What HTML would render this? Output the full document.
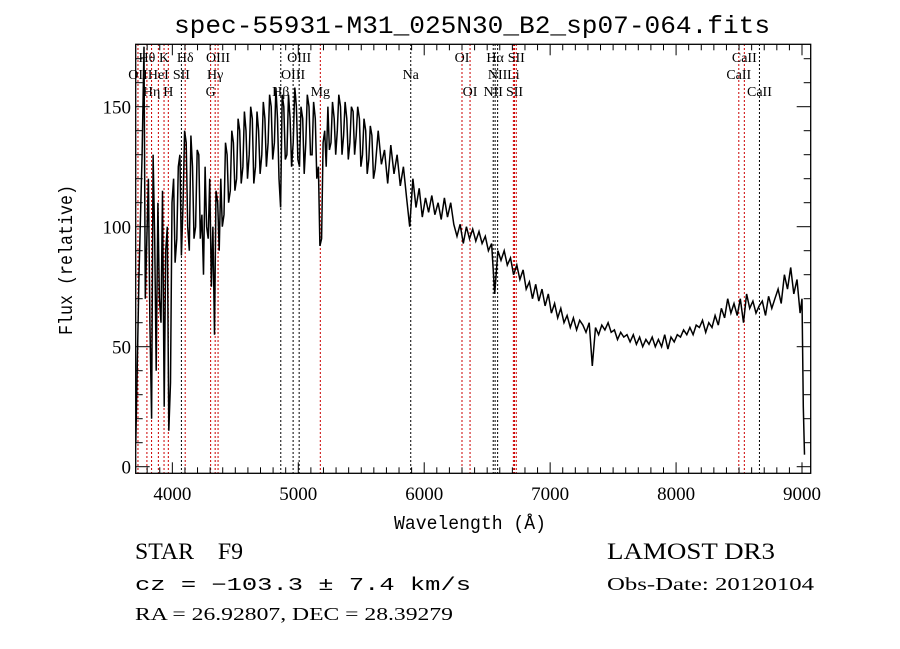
<!DOCTYPE html>
<html><head><meta charset="utf-8"><style>
html,body{margin:0;padding:0;background:#fff;}
svg{display:block;}
text{font-family:"Liberation Serif",serif;fill:#000;}
.mono{font-family:"Liberation Mono",monospace;}
</style></head><body>
<svg id="chart" width="900" height="649" viewBox="0 0 900 649" xmlns="http://www.w3.org/2000/svg">
<rect x="0" y="0" width="900" height="649" fill="#fff"/>
<text class="mono" x="472" y="33" font-size="25" text-anchor="middle" textLength="596" lengthAdjust="spacingAndGlyphs">spec-55931-M31_025N30_B2_sp07-064.fits</text>
<defs><clipPath id="plotclip"><rect x="136" y="44.5" width="674.5" height="428.5"/></clipPath></defs>
<g id="lines" clip-path="url(#plotclip)"></g>
<g id="labels"></g>
<g id="series" clip-path="url(#plotclip)"></g>
<rect x="135.7" y="44.3" width="675" height="429" fill="none" stroke="#000" stroke-width="1.3"/>
<g id="axes"></g>
<text class="mono" x="470" y="529" font-size="19" text-anchor="middle" textLength="152" lengthAdjust="spacingAndGlyphs">Wavelength (Å)</text>
<text class="mono" transform="translate(72,260) rotate(-90)" font-size="19" text-anchor="middle" textLength="150" lengthAdjust="spacingAndGlyphs">Flux (relative)</text>
<text x="135" y="559" font-size="23" textLength="108" lengthAdjust="spacingAndGlyphs">STAR&#160;&#160;&#160;&#160;F9</text>
<text class="mono" x="135" y="590" font-size="18" textLength="336" lengthAdjust="spacingAndGlyphs">cz = −103.3 ± 7.4 km/s</text>
<text x="135" y="620" font-size="18" textLength="318" lengthAdjust="spacingAndGlyphs">RA =  26.92807, DEC =  28.39279</text>
<text x="607" y="559" font-size="23" textLength="168" lengthAdjust="spacingAndGlyphs">LAMOST DR3</text>
<text x="607" y="590" font-size="18" textLength="207" lengthAdjust="spacingAndGlyphs">Obs-Date: 20120104</text>
</svg>
<script>
const wavelengths=[3710,3735,3760,3775,3785,3810,3822,3835,3847,3860,3872,3885,3897,3910,3922,3935,3947,3960,3972,3985,3997,4010,4022,4035,4047,4060,4072,4085,4097,4110,4122,4135,4147,4160,4172,4185,4197,4210,4222,4235,4247,4260,4272,4285,4297,4310,4322,4335,4347,4360,4372,4385,4397,4410,4422,4435,4447,4460,4472,4485,4497,4510,4522,4535,4547,4560,4572,4585,4597,4610,4622,4635,4647,4660,4672,4685,4697,4710,4722,4735,4747,4760,4772,4785,4797,4810,4822,4835,4847,4860,4872,4885,4897,4910,4922,4935,4947,4960,4972,4985,4997,5010,5022,5035,5047,5060,5072,5085,5097,5110,5122,5135,5147,5160,5172,5185,5197,5210,5222,5235,5247,5260,5272,5285,5297,5310,5322,5335,5347,5360,5372,5385,5397,5410,5422,5435,5447,5460,5472,5485,5497,5510,5522,5535,5547,5560,5572,5585,5597,5610,5635,5660,5685,5710,5735,5760,5785,5810,5835,5860,5885,5910,5935,5960,5985,6010,6035,6060,6085,6110,6135,6160,6185,6210,6235,6260,6285,6310,6335,6360,6385,6410,6435,6460,6485,6510,6535,6560,6585,6610,6635,6660,6685,6710,6735,6760,6785,6810,6835,6860,6885,6910,6935,6960,6985,7010,7035,7060,7085,7110,7135,7160,7185,7210,7235,7260,7285,7310,7335,7360,7385,7410,7435,7460,7485,7510,7535,7560,7585,7610,7635,7660,7685,7710,7735,7760,7785,7810,7835,7860,7885,7910,7935,7960,7985,8010,8035,8060,8085,8110,8135,8160,8185,8210,8235,8260,8285,8310,8335,8360,8385,8410,8435,8460,8485,8510,8535,8560,8585,8610,8635,8660,8685,8710,8735,8760,8785,8810,8835,8860,8885,8910,8935,8960,8985,9000,9010,9020];
const fluxes=[10,80,130,175,70,120,60,20,130,95,40,110,70,60,115,25,90,100,15,35,110,120,85,95,125,130,88,110,140,135,100,90,138,125,95,100,132,130,95,105,80,125,100,95,120,75,100,55,115,110,90,120,100,105,135,130,110,115,140,135,115,120,145,140,118,125,148,140,120,130,150,145,118,125,148,140,122,130,152,145,125,135,155,150,128,135,158,145,120,108,155,150,128,130,155,145,125,135,158,150,128,125,150,145,122,135,155,150,130,130,152,145,120,125,92,95,135,140,125,150,132,135,152,145,130,140,155,150,130,138,152,145,128,135,150,148,130,138,150,145,125,130,145,140,122,128,142,138,120,124,140,126,132,118,134,122,130,117,125,112,100,120,108,116,104,112,106,113,105,110,103,112,104,110,101,96,101,93,100,95,99,94,98,93,96,90,93,72,90,86,90,84,87,80,84,78,82,74,77,70,76,69,74,67,72,64,68,62,66,60,63,58,62,57,61,59,56,60,42,58,55,59,57,60,56,57,53,56,54,55,52,55,51,54,50,53,51,54,50,53,50,55,49,54,52,55,54,57,55,58,55,59,58,61,56,60,58,63,59,66,62,70,64,68,63,70,60,72,66,69,64,67,69,63,71,66,70,74,68,80,74,83,72,78,64,70,25,5];
const lineWaves=[3727,3798,3835,3889,3934,3968,4072,4102,4304,4340,4363,4861,4959,5007,5175,5893,6300,6364,6548,6563,6583,6708,6717,6731,8498,8542,8662];
const lineNames=["OII","Hθ","Hη","HeI","K","H","SII","Hδ","G","Hγ","OIII","Hβ","OIII","OIII","Mg","Na","OI","OI","NII","Hα","NII","Li","SII","SII","CaII","CaII","CaII"];
const lineRows=[2,1,3,2,1,3,2,1,3,2,1,3,2,1,3,2,1,3,3,1,2,2,3,1,2,1,3];
const lineColors=["#c00","#c00","#c00","#c00","#c00","#c00","#000","#c00","#c00","#c00","#c00","#000","#000","#000","#c00","#000","#c00","#c00","#000","#000","#000","#c00","#c00","#c00","#c00","#c00","#000"];
const xTicks=[4000,5000,6000,7000,8000,9000];
const yTicks=[0,50,100,150];

const NS="http://www.w3.org/2000/svg";
const X0=135.7,X1=810.7,W0=3709,W1=9069;
const Y0=466.7,Ypx=2.4;
function xs(w){return X0+(w-W0)/(W1-W0)*(X1-X0);}
function ys(f){return Y0-f*Ypx;}
function mk(tag,parent){const e=document.createElementNS(NS,tag);parent.appendChild(e);return e;}

const gl=document.getElementById('lines'),glab=document.getElementById('labels');
const rowY={1:62,2:79,3:96};
lineWaves.forEach((w,i)=>{
  const l=mk('line',gl);
  
  
  l.setAttribute('x1',xs(w));l.setAttribute('x2',xs(w));
  l.setAttribute('y1',44);l.setAttribute('y2',474);
  l.setAttribute('stroke',lineColors[i]);l.setAttribute('stroke-width','1');
  l.setAttribute('stroke-dasharray','2,2');
  const t=mk('text',glab);
  
  
  t.setAttribute('x',xs(w));t.setAttribute('y',rowY[lineRows[i]]);
  t.setAttribute('font-size','14');t.setAttribute('text-anchor','middle');
  t.textContent=lineNames[i];
});

const gs=document.getElementById('series');
const p=mk('polyline',gs);


p.setAttribute('fill','none');p.setAttribute('stroke','#000');p.setAttribute('stroke-width','1.5');
p.setAttribute('points',wavelengths.map((w,i)=>xs(w).toFixed(1)+','+ys(fluxes[i]).toFixed(1)).join(' '));

const ga=document.getElementById('axes');
function tick(x1,y1,x2,y2){const t=mk('line',ga);
  
  
  t.setAttribute('x1',x1);t.setAttribute('y1',y1);t.setAttribute('x2',x2);t.setAttribute('y2',y2);
  t.setAttribute('stroke','#000');t.setAttribute('stroke-width','1');}
for(let w=3800;w<=9000;w+=100){const x=xs(w),maj=(w%1000===0),L=maj?11:6;
  tick(x,473.3,x,473.3-L);tick(x,44.3,x,44.3+L);}
for(let f=0;f<=170;f+=10){const y=ys(f),maj=(f%50===0),L=maj?14:7;
  tick(135.7,y,135.7+L,y);tick(810.7,y,810.7-L,y);}
xTicks.forEach(w=>{const t=mk('text',ga);
  
  
  t.setAttribute('x',xs(w));t.setAttribute('y',500);t.setAttribute('font-size','19');
  t.setAttribute('text-anchor','middle');t.setAttribute('font-family','Liberation Sans, sans-serif');t.textContent=w;});
yTicks.forEach(f=>{const t=mk('text',ga);
  
  
  t.setAttribute('x',131);t.setAttribute('y',ys(f)+7);t.setAttribute('font-size','19');
  t.setAttribute('text-anchor','end');t.setAttribute('font-family','Liberation Sans, sans-serif');t.textContent=f;});
</script>
</body></html>
